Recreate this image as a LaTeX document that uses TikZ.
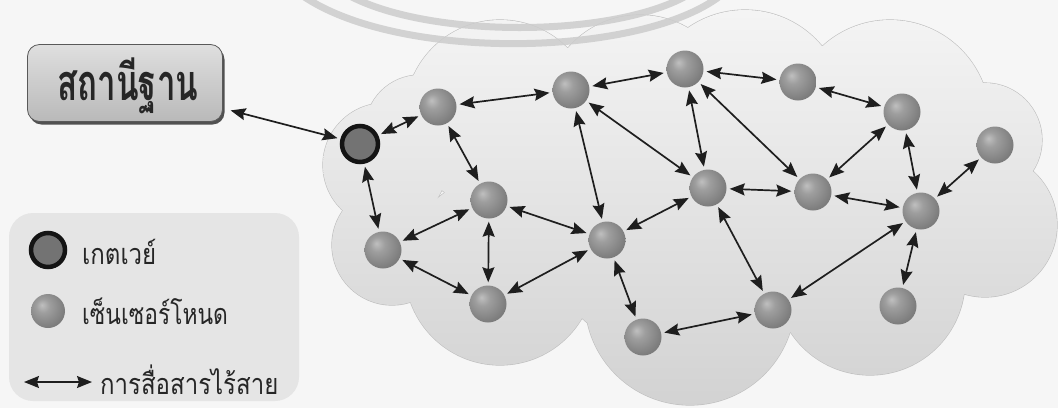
\documentclass[tikz,border=0pt]{standalone}
\usepackage{fontspec}
\usetikzlibrary{arrows.meta,shadows}
\newfontfamily\thai[Script=Thai]{Loma}
\definecolor{bg}{HTML}{F6F6F6}
\definecolor{cloudtop}{HTML}{F5F5F5}
\definecolor{cloudmid}{HTML}{EBEBEB}
\definecolor{cloudbot}{HTML}{D2D2D2}
\definecolor{arcgray}{HTML}{CCCCCC}
\definecolor{edgecol}{HTML}{1E1E1E}
\pgfdeclareradialshading{sphere}{\pgfpoint{-9bp}{9bp}}{color(0bp)=(black!25); color(10bp)=(black!38); color(30bp)=(black!52); color(42bp)=(black!62); color(60bp)=(black!66)}
\def\cloudlist{385/165/62, 420/130/55, 392/245/60, 500/270/95, 500/115/95, 640/110/95, 745/110/100, 690/300/105, 870/280/95, 890/120/100, 985/140/57, 985/225/72, 690/200/160}
\begin{document}
\begin{tikzpicture}[x=1pt,y=-1pt,
  sensor/.style={circle,minimum size=37pt,inner sep=0pt,shading=sphere},
  gateway/.style={circle,minimum size=36pt,inner sep=0pt,fill=black!55,draw=black!92,line width=4.5pt},
  link/.style={{Stealth[length=15pt,width=12pt,inset=2pt]}-{Stealth[length=15pt,width=12pt,inset=2pt]},line width=1.7pt,draw=edgecol,shorten >=3pt,shorten <=3pt},
  stationbox/.style={rounded corners=12pt,minimum width=195pt,minimum height=77pt,top color=gray!25,bottom color=gray!55,draw=gray!70!black,line width=0.8pt,drop shadow={shadow xshift=2pt,shadow yshift=-3pt,fill=black!75,opacity=0.9}},
  legendbox/.style={rounded corners=24pt,fill=gray!20,draw=none},
  legtext/.style={anchor=west,inner sep=0pt,text=black!85}
]
\useasboundingbox (0,0) rectangle (1058,408);
\clip (0,0) rectangle (1058,408);
\fill[bg] (0,0) rectangle (1058,408);

% cloud outline then shaded union
\foreach \cx/\cy/\r in \cloudlist {\draw[gray!50,line width=1.2pt] (\cx,\cy) circle[radius=\r pt];}
\begin{scope}
  \clip \foreach \cx/\cy/\r in \cloudlist {(\cx,\cy) circle[radius=\r pt]};
  \shade[top color=cloudtop,middle color=cloudmid,bottom color=cloudbot] (300,0) rectangle (1058,408);
\end{scope}

% watermark arcs
\draw[arcgray,line width=7pt,opacity=0.85] (303,-4) .. controls (400,62) and (640,57) .. (720,-4);
\draw[arcgray,line width=7pt,opacity=0.85] (350,-4) .. controls (430,38) and (610,38) .. (686,-4);

% station
\node[stationbox] (st) at (125,83) {};
\node[inner sep=0pt,text=black!85] (stt) at (128,86) {\scalebox{0.92}[1.4]{\thai\bfseries\fontsize{36pt}{38pt}\selectfont สถานีฐาน}};

% legend
\node[legendbox,minimum width=290pt,minimum height=188pt] (leg) at (154,307) {};
\node[gateway,minimum size=34pt] (lg) at (48,250) {};
\node[sensor,minimum size=34pt] (ls) at (48,311) {};
\node[legtext] (lgt) at (82,252) {\scalebox{1}[1.2]{\thai\fontsize{24pt}{26pt}\selectfont เกตเวย์}};
\node[legtext] (lst) at (82,311) {\scalebox{0.95}[1.2]{\thai\fontsize{24pt}{26pt}\selectfont เซ็นเซอร์โหนด}};
\coordinate (la1) at (24,382);
\coordinate (la2) at (92,382);
\draw[link,shorten >=0pt,shorten <=0pt,line width=1.3pt] (la1) -- (la2);
\node[legtext] (lat) at (100,380) {\scalebox{1}[1.2]{\thai\fontsize{24pt}{26pt}\selectfont การสื่อสารไร้สาย}};

% network nodes
\node[gateway] (G) at (360,144) {};
\node[sensor] (n1) at (438,107) {};
\node[sensor] (n2) at (571,90) {};
\node[sensor] (n3) at (685,69) {};
\node[sensor] (n4) at (798,82) {};
\node[sensor] (n5) at (902,112) {};
\node[sensor] (n6) at (995,145) {};
\node[sensor] (n7) at (708,188) {};
\node[sensor] (n8) at (813,192) {};
\node[sensor] (n9) at (921,211) {};
\node[sensor] (n10) at (489,200) {};
\node[sensor] (n11) at (383,250) {};
\node[sensor] (n12) at (488,304) {};
\node[sensor] (n13) at (607,240) {};
\node[sensor] (n14) at (643,337) {};
\node[sensor] (n15) at (773,310) {};
\node[sensor] (n16) at (898,306) {};

% links
\draw[link,shorten <=8pt] (st) -- (G);
\foreach \a/\b in {G/n1,G/n11,n1/n2,n1/n10,n2/n3,n2/n13,n2/n7,n3/n4,n3/n7,n3/n8,n4/n5,n5/n8,n5/n9,n6/n9,n7/n8,n8/n9,n7/n13,n7/n15,n9/n15,n9/n16,n14/n15,n13/n14,n10/n11,n10/n12,n10/n13,n11/n12,n12/n13}
  {\draw[link] (\a) -- (\b);}
\end{tikzpicture}
\end{document}
